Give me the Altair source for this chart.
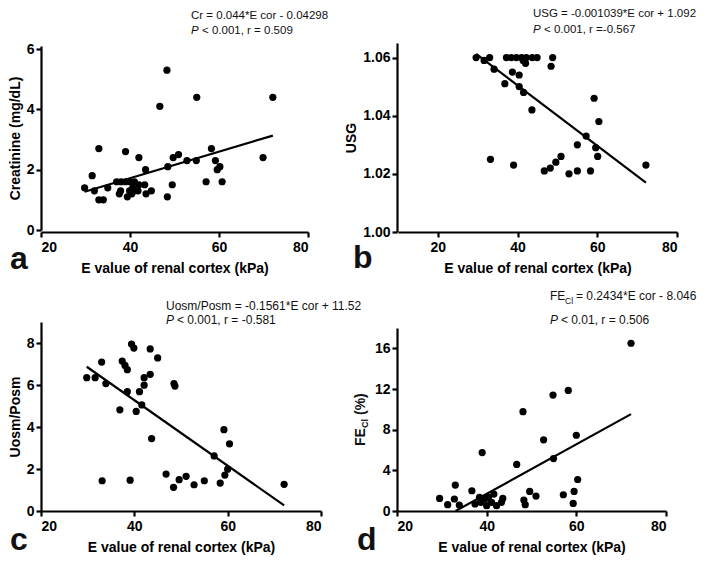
import altair as alt
import pandas as pd

FONT = "Liberation Sans"
XTITLE = "E value of renal cortex (kPa)"

# ---------------- data ----------------
# a: creatinine
a_x = [29.8, 31.5, 32.0, 33.0, 33.0, 34.0, 35.0, 37.0, 37.6, 37.9, 38.0, 39.0, 39.0, 39.4, 39.9,
       40.0, 40.4, 40.6, 41.0, 41.0, 41.8, 42.0, 42.0, 43.3, 43.5, 43.6, 44.8, 46.7, 48.3, 48.5,
       48.4, 49.5, 49.7, 50.9, 52.8, 55.0, 54.9, 57.1, 58.3, 59.2, 59.6, 60.2, 60.7, 69.9, 72.1]
a_y = [1.4, 1.8, 1.3, 2.7, 1.0, 1.0, 1.4, 1.6, 1.2, 1.3, 1.6, 1.6, 2.6, 1.1, 1.3,
       1.6, 1.2, 1.4, 1.6, 1.3, 1.3, 2.4, 1.5, 1.5, 2.0, 1.2, 1.3, 4.1, 5.3, 2.1,
       1.1, 1.5, 2.4, 2.5, 2.3, 4.4, 2.3, 1.6, 2.7, 2.3, 2.0, 2.1, 1.6, 2.4, 4.4]

# b: USG
b_x = [29.6, 31.6, 33.0, 34.1, 37.2, 38.4, 39.7, 41.0, 42.2, 43.7, 44.9, 48.8, 48.4, 41.4, 42.0,
       38.7, 36.8, 40.4, 40.4, 41.5, 43.6, 33.2, 39.0, 46.7, 48.2, 49.6, 50.9, 52.9, 55.0, 55.0,
       57.2, 58.3, 59.2, 59.6, 60.1, 60.4, 72.2]
b_y = [1.060, 1.059, 1.060, 1.056, 1.060, 1.060, 1.060, 1.060, 1.060, 1.060, 1.060, 1.060, 1.057,
       1.059, 1.058, 1.055, 1.051, 1.054, 1.050, 1.048, 1.042, 1.025, 1.023, 1.021, 1.022, 1.024,
       1.026, 1.020, 1.021, 1.030, 1.033, 1.021, 1.046, 1.029, 1.026, 1.038, 1.023]

# c: Uosm/Posm
c_x = [29.8, 31.6, 33.0, 33.1, 33.9, 36.9, 37.4, 38.0, 38.5, 38.5, 39.1, 39.4, 39.9, 40.4, 41.1,
       41.6, 42.1, 42.1, 43.4, 43.4, 43.7, 45.0, 46.8, 48.4, 48.5, 48.7, 49.6, 51.1, 52.8, 55.0,
       57.1, 58.4, 59.2, 59.4, 60.0, 60.4, 72.1]
c_y = [6.35, 6.35, 7.09, 1.44, 6.07, 4.82, 7.14, 6.93, 6.73, 5.68, 1.47, 7.95, 7.76, 4.74, 5.68,
       5.05, 6.35, 5.99, 7.72, 6.51, 3.45, 7.29, 1.76, 1.13, 6.07, 5.95, 1.49, 1.65, 1.25, 1.44,
       2.62, 1.33, 3.87, 1.71, 1.99, 3.2, 1.27]

# d: FE_Cl (%)
d_x = [29.5, 31.3, 32.8, 33.0, 33.9, 36.7, 37.4, 38.4, 39.0, 38.7, 39.6, 40.0, 40.4, 41.1, 41.6,
       42.2, 43.3, 43.6, 46.7, 48.1, 48.3, 48.6, 49.6, 51.0, 52.7, 54.8, 54.9, 57.1, 58.2, 59.3,
       59.5, 60.0, 60.3, 72.2]
d_y = [1.24, 0.62, 1.18, 2.55, 0.59, 1.99, 0.69, 1.34, 5.75, 0.85, 1.18, 0.52, 1.34, 0.85, 1.67,
       0.52, 0.85, 1.24, 4.58, 9.77, 1.08, 0.62, 1.93, 1.47, 7.0, 11.4, 5.16, 1.6, 11.86, 0.75,
       1.93, 7.45, 3.1, 16.5]

# regression lines as printed on the figure
slopes = [0.044, -0.001039, -0.1561, 0.2434]
intercepts = [-0.04298, 1.092, 11.52, -8.046]

eq_texts = ["Cr = 0.044*E cor - 0.04298", "USG = -0.001039*E cor + 1.092",
            "Uosm/Posm = -0.1561*E cor + 11.52", "= 0.2434*E cor - 8.046"]
stat_texts = ["< 0.001, r = 0.509", "< 0.001, r =-0.567", "< 0.001, r = -0.581", "< 0.01, r = 0.506"]
letters = ["a", "b", "c", "d"]
y_titles = ["Creatinine (mg/dL)", "USG", "Uosm/Posm", ""]

W, H = 282, 189


def txt(s, x, y, size=11.5, style="normal", weight="normal", align="left",
        baseline="middle", angle=0):
    kw = dict(align=align, baseline=baseline, font=FONT, fontSize=size,
              fontStyle=style, fontWeight=weight, color="#111111")
    if angle:
        kw["angle"] = angle
    return alt.Chart(pd.DataFrame({"t": [s]})).mark_text(**kw).encode(
        text="t:N", x=alt.value(x), y=alt.value(y))


def panel(i, xs, ys, xdom, xticks, xrange, ydom, yticks, yrange, yfmt,
          eq_pos, eq_size, letter_pos, extra=None):
    pts = pd.DataFrame({"x": xs, "y": ys})
    m, b = slopes[i], intercepts[i]
    x0, x1 = min(xs), max(xs)
    if m * x0 + b < ydom[0]:
        x0 = (ydom[0] - b) / m
    line = pd.DataFrame({"x": [x0, x1], "y": [m * x0 + b, m * x1 + b]})

    xsc = alt.Scale(domain=xdom, range=xrange, nice=False, zero=False)
    ysc = alt.Scale(domain=ydom, range=yrange, nice=False, zero=False)
    xax = alt.Axis(values=xticks, title=XTITLE)
    yax = alt.Axis(values=yticks, format=yfmt, title=y_titles[i])
    X = alt.X("x:Q", scale=xsc, axis=xax)
    Y = alt.Y("y:Q", scale=ysc, axis=yax)

    layers = [
        alt.Chart(pts).mark_circle(size=52, color="black", opacity=1).encode(x=X, y=Y),
        alt.Chart(line).mark_line(color="black", strokeWidth=2.2).encode(x=X, y=Y),
    ]
    ex, ey1, ey2 = eq_pos
    if i == 3:
        layers.append(txt("FE", ex, ey1, size=eq_size))
        layers.append(txt("Cl", ex + 15, ey1 + 5, size=8.5))
        layers.append(txt(eq_texts[i], ex + 26, ey1, size=eq_size))
    else:
        layers.append(txt(eq_texts[i], ex, ey1, size=eq_size))
    layers.append(txt("P", ex, ey2, size=eq_size, style="italic"))
    layers.append(txt(stat_texts[i], ex + 11, ey2, size=eq_size))
    lx, ly = letter_pos
    layers.append(txt(letters[i], lx, ly, size=32, weight="bold", baseline="alphabetic"))
    if extra:
        layers.extend(extra)
    return alt.layer(*layers).properties(width=W, height=H)


pa = panel(0, a_x, a_y, [20, 80], [20, 40, 60, 80], [0, 267], [0, 6.1], [0, 2, 4, 6],
           [H - 2, 3], "d", (150, -27, -12), 11.5, (-31, H + 37))
pb = panel(1, b_x, b_y, [10, 80], [20, 40, 60, 80], [1, 280], [1.0, 1.065],
           [1.00, 1.02, 1.04, 1.06], [H, 0], ".2f", (136, -29, -13), 11.5, (-44, H + 36))
pc = panel(2, c_x, c_y, [20, 80], [20, 40, 60, 80], [0, 280], [0, 9], [0, 2, 4, 6, 8],
           [H, 0], "d", (125, -16, -2), 12, (-31, H + 39))

d_title = [
    txt("FE", -36, 124, size=14, weight="bold", angle=270),
    txt("Cl", -32, 106, size=9, weight="bold", angle=270),
    txt("(%)", -36, 93, size=14, weight="bold", angle=270),
]
pd_ = panel(3, d_x, d_y, [20, 80], [20, 40, 60, 80], [0, 269], [0, 18], [0, 4, 8, 12, 16],
            [H, 6], "d", (153, -26, -2), 12, (-40, H + 39), extra=d_title)

chart = alt.concat(pa, pb, pc, pd_, columns=2, bounds="flush",
                   spacing={"row": 90, "column": 74}).properties(
    padding={"left": 0, "top": 0, "right": 0, "bottom": 0}
).configure_axis(
    grid=False, domainColor="black", domainWidth=2.2, tickColor="black", tickWidth=2.2,
    tickSize=5, labelFont=FONT, labelFontSize=14, labelFontWeight="bold",
    labelColor="black", titleFont=FONT, titleFontSize=14, titleFontWeight="bold",
    titleColor="black"
).configure_axisX(labelPadding=3, titlePadding=7
).configure_axisY(labelPadding=2, titlePadding=4
).configure_view(stroke=None)

chart.save("out.html", embed_options={"renderer": "svg", "actions": False})
